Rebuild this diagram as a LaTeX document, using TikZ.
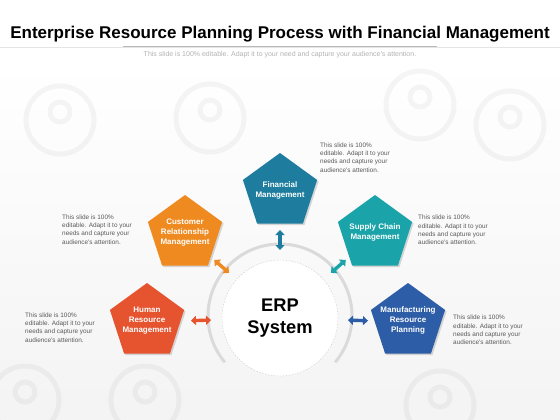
\documentclass[tikz,border=0pt]{standalone}
\usepackage{fontspec}
\setmainfont{Liberation Sans}
\usepackage{tikz}
\usetikzlibrary{
  arrows.meta,
  positioning,
  calc,
  shapes.geometric,
  shadows
}
\definecolor{fincolor}{HTML}{1E7D9E}
\definecolor{scmcolor}{HTML}{1AA3A8}
\definecolor{mrpcolor}{HTML}{2D5DA6}
\definecolor{crmcolor}{HTML}{EF8A20}
\definecolor{hrmcolor}{HTML}{E5532F}
\definecolor{desccolor}{HTML}{5A5A5A}
\definecolor{arccolor}{HTML}{DADADA}
\newcommand{\blurb}{This slide is 100\%\\editable. Adapt it to your\\needs and capture your\\audience's attention.}

\begin{document}
\begin{tikzpicture}[
  x=1pt, y=-1pt,
  penta/.style={regular polygon, regular polygon sides=5, minimum size=78pt, inner sep=0pt,
    drop shadow={opacity=0.3, shadow xshift=1.5pt, shadow yshift=-1.5pt}},
  ptext/.style={align=center, text=white, inner sep=0pt, yshift=1.5pt,
    font=\fontsize{8}{9.7}\selectfont\bfseries},
  desc/.style={anchor=west, align=left, inner sep=0pt, text=desccolor,
    font=\fontsize{6.4}{8.4}\selectfont},
  link/.style={line width=3.4pt, {Triangle[width=9pt,length=5pt]}-{Triangle[width=9pt,length=5pt]}},
  icon/.style={draw=black, draw opacity=0.04, line width=5pt},
]
  \useasboundingbox (0,0) rectangle (560,420);

  % Background
  \shade[top color=white, bottom color=gray!9] (0,62) rectangle (560,420);
  \foreach \cx/\cy in {60/120, 210/118, 420/105, 510/125, 25/400, 145/400, 440/405} {
    \draw[icon] (\cx,\cy) circle[radius=34];
    \draw[icon] (\cx,\cy-8) circle[radius=10];
  }

  % Title
  \node[anchor=base, inner sep=0pt, font=\fontsize{17}{20}\selectfont\bfseries] (title) at (280,38.5)
    {Enterprise Resource Planning Process with Financial Management};
  \draw[gray!20, line width=0.6pt] (0,47) -- (560,47);
  \draw[gray!55, line width=0.7pt] (123,46) -- (437,46);
  \node[anchor=base, inner sep=0pt, text=gray!60, font=\fontsize{7}{8}\selectfont] (subtitle) at (280,57)
    {This slide is 100\% editable. Adapt it to your need and capture your audience's attention.};

  % Centre
  \draw[arccolor, line width=3pt] ([shift={(140:72)}]280,316) arc[start angle=140, end angle=400, radius=72];
  \node[circle, draw=gray!40, dash pattern=on 1.5pt off 1.5pt, fill=white, minimum size=116pt,
    align=center, font=\fontsize{18.3}{21.5}\selectfont\bfseries] (erp) at (280,318) {ERP\\System};

  % Pentagons
  \node[penta, fill=fincolor] (fin) at (280,192) {};
  \node[penta, fill=crmcolor] (crm) at (185,234) {};
  \node[penta, fill=scmcolor] (scm) at (375,234) {};
  \node[penta, fill=hrmcolor] (hrm) at (147,322) {};
  \node[penta, fill=mrpcolor] (mrp) at (408,322) {};

  \node[ptext] (fin-txt) at (fin) {Financial\\Management};
  \node[ptext] (crm-txt) at (crm) {Customer\\Relationship\\Management};
  \node[ptext] (scm-txt) at (scm) {Supply Chain\\Management};
  \node[ptext] (hrm-txt) at (hrm) {Human\\Resource\\Management};
  \node[ptext] (mrp-txt) at (mrp) {Manufacturing\\Resource\\Planning};

  % Links to the ERP system
  \draw[link, fincolor, shorten <=68pt, shorten >=38pt] (erp.center) -- (fin.center);
  \draw[link, crmcolor, shorten <=68pt, shorten >=39pt] (erp.center) -- (crm.center);
  \draw[link, scmcolor, shorten <=68pt, shorten >=39pt] (erp.center) -- (scm.center);
  \draw[link, hrmcolor, shorten <=69pt, shorten >=44pt] (erp.center) -- (hrm.center);
  \draw[link, mrpcolor, shorten <=68pt, shorten >=40pt] (erp.center) -- (mrp.center);

  % Descriptions
  \node[desc] (fin-desc) at (320,157.5) {\blurb};
  \node[desc] (crm-desc) at (62,229.5) {\blurb};
  \node[desc] (scm-desc) at (418,230) {\blurb};
  \node[desc] (hrm-desc) at (25,327.5) {\blurb};
  \node[desc] (mrp-desc) at (453,330) {\blurb};
\end{tikzpicture}
\end{document}
